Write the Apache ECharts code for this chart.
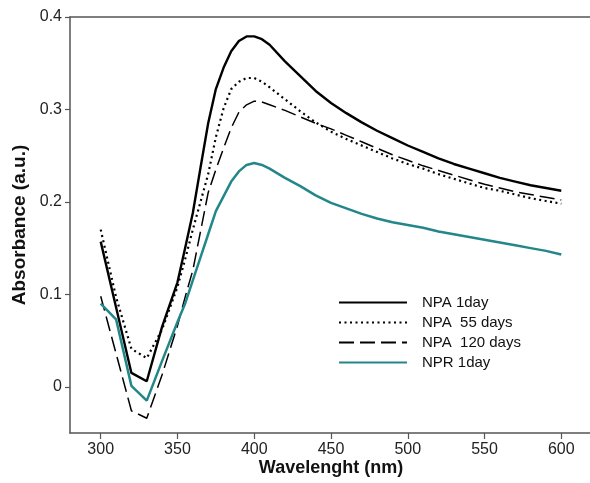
<!DOCTYPE html>
<html>
<head>
<meta charset="utf-8">
<script src="https://cdn.jsdelivr.net/npm/echarts@6/dist/echarts.min.js"></script>
<style>html,body{margin:0;padding:0;background:#fff}#c{width:590px;height:483px}</style>
</head>
<body>
<div id="c"></div>
<script>
var wavelength = [300,310,320,330,340,350,355,360,365,370,375,380,385,390,395,400,405,410,420,430,440,450,460,470,480,490,500,510,520,530,540,550,560,570,580,590,600];
var npa1day   = [0.157,0.086,0.015,0.006,0.065,0.113,0.150,0.188,0.237,0.285,0.322,0.345,0.363,0.374,0.379,0.379,0.376,0.370,0.352,0.336,0.320,0.307,0.296,0.286,0.277,0.269,0.261,0.254,0.247,0.241,0.236,0.231,0.226,0.222,0.218,0.215,0.212];
var npa55days = [0.170,0.097,0.041,0.031,0.062,0.108,0.138,0.170,0.200,0.230,0.270,0.301,0.322,0.330,0.334,0.334,0.330,0.324,0.311,0.298,0.286,0.276,0.268,0.261,0.254,0.247,0.241,0.236,0.230,0.225,0.220,0.215,0.212,0.208,0.204,0.201,0.198];
var npa120days= [0.098,0.036,-0.026,-0.034,0.013,0.066,0.097,0.126,0.168,0.210,0.235,0.258,0.280,0.297,0.305,0.309,0.308,0.305,0.299,0.292,0.285,0.279,0.272,0.265,0.258,0.251,0.245,0.239,0.234,0.229,0.224,0.219,0.215,0.211,0.208,0.205,0.202];
var npr1day   = [0.090,0.073,0.001,-0.015,0.028,0.070,0.090,0.115,0.140,0.165,0.190,0.206,0.222,0.233,0.240,0.242,0.240,0.236,0.226,0.217,0.207,0.199,0.193,0.187,0.182,0.178,0.175,0.172,0.168,0.165,0.162,0.159,0.156,0.153,0.150,0.147,0.143];
var xTicks = [300,350,400,450,500,550,600];
var yTicks = [0,0.1,0.2,0.3,0.4];
var seriesNames = ['NPA 1day','NPA  55 days','NPA  120 days','NPR 1day'];

function pairs(v){ return wavelength.map(function(w,i){ return [w, v[i]]; }); }
var FONT = 'Liberation Sans, Arial, sans-serif';
var axisColor = '#555';
var chart = echarts.init(document.getElementById('c'), null, {renderer:'canvas'});
chart.setOption({
  animation:false,
  backgroundColor:'#fff',
  grid:{left:70, top:17, right:-2, bottom:50, containLabel:false, outerBoundsMode:'none'},
  legend:{
    data:seriesNames, orient:'vertical', left:338, top:295, padding:0,
    itemWidth:68, itemHeight:14, itemGap:5,
    itemStyle:{opacity:0},
    textStyle:{fontFamily:FONT, fontSize:15, color:'#111', lineHeight:14, padding:[0,0,0,10]}
  },
  xAxis:[{
    type:'value', min:280, max:620, position:'bottom',
    name:'Wavelenght (nm)', nameLocation:'middle', nameGap:26, nameMoveOverlap:false,
    nameTextStyle:{fontFamily:FONT, fontSize:18, fontWeight:'bold', color:'#111'},
    axisLine:{show:true, onZero:false, lineStyle:{color:axisColor, width:1.5}},
    axisTick:{show:true, length:6, customValues:xTicks, lineStyle:{color:axisColor, width:1.2}},
    axisLabel:{customValues:xTicks, fontFamily:FONT, fontSize:16, color:'#222', margin:9},
    splitLine:{show:false}
  },{
    type:'value', min:280, max:620, position:'top',
    axisLine:{show:true, onZero:false, lineStyle:{color:axisColor, width:1.5}},
    axisTick:{show:false}, axisLabel:{show:false}, splitLine:{show:false}
  }],
  yAxis:{
    type:'value', min:-0.05, max:0.4,
    name:'Absorbance (a.u.)', nameLocation:'middle', nameGap:40, nameRotate:90,
    nameTextStyle:{fontFamily:FONT, fontSize:19, fontWeight:'bold', color:'#111'},
    axisLine:{show:true, onZero:false, lineStyle:{color:axisColor, width:1.5}},
    axisTick:{show:true, length:5, customValues:yTicks, lineStyle:{color:axisColor, width:1.2}},
    axisLabel:{customValues:yTicks, fontFamily:FONT, fontSize:16, color:'#222', margin:8,
      formatter:function(v){ return String(Math.round(v*10)/10); }},
    splitLine:{show:false}
  },
  series:[
    {name:seriesNames[0], type:'line', data:pairs(npa1day), showSymbol:false, symbol:'none',
     lineStyle:{color:'#000', width:2.4, type:'solid'}, itemStyle:{color:'#000'}},
    {name:seriesNames[1], type:'line', data:pairs(npa55days), showSymbol:false, symbol:'none',
     lineStyle:{color:'#000', width:2.2, type:[2,3.5]}, itemStyle:{color:'#000'}},
    {name:seriesNames[2], type:'line', data:pairs(npa120days), showSymbol:false, symbol:'none',
     lineStyle:{color:'#000', width:1.5, type:[15,6]}, itemStyle:{color:'#000'}},
    {name:seriesNames[3], type:'line', data:pairs(npr1day), showSymbol:false, symbol:'none',
     lineStyle:{color:'#23878a', width:2.5, type:'solid'}, itemStyle:{color:'#23878a'}}
  ]
});
</script>
</body>
</html>
